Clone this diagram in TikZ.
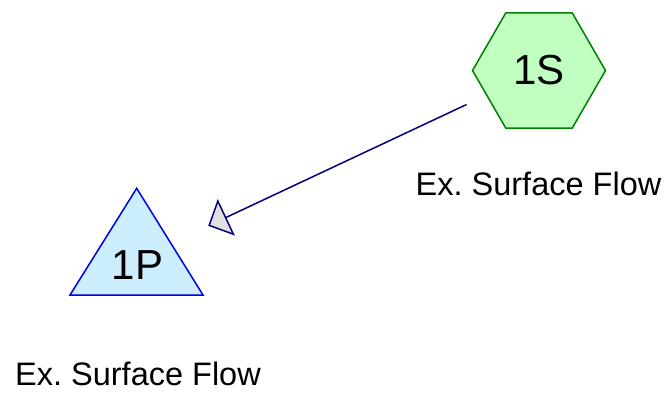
\documentclass[tikz,border=0pt]{standalone}
\usepackage{fontspec}
\setmainfont{Liberation Sans}
\usetikzlibrary{shapes.geometric,arrows.meta}
\definecolor{hexfill}{HTML}{C0FFC0}
\definecolor{hexline}{HTML}{008000}
\definecolor{trifill}{HTML}{CCEEFF}
\definecolor{triline}{HTML}{0000EE}
\definecolor{arrline}{HTML}{000080}
\definecolor{tipfill}{HTML}{E0E0E0}
\tikzset{
  hexnode/.style={regular polygon, regular polygon sides=6, minimum size=133pt,
    inner sep=0pt, outer sep=0pt, draw=hexline, fill=hexfill, line width=1.5pt,
    font=\fontsize{42}{48}\selectfont},
  trishape/.style={draw=triline, fill=trifill, line width=1.5pt, line join=miter},
  bigtext/.style={font=\fontsize{42}{48}\selectfont, inner sep=0pt},
  captext/.style={font=\fontsize{32.5}{36}\selectfont\frenchspacing, inner sep=0pt, anchor=base},
  flow/.style={draw=arrline, line width=1.5pt, shorten <=80pt, shorten >=79pt,
    -{Triangle[length=20pt,width=40pt,fill=tipfill]}}
}
\begin{document}
\begin{tikzpicture}[x=1pt,y=-1pt]
\useasboundingbox (0,0) rectangle (672,393);
% hexagon 1S
\node[hexnode] (s) at (539,70.5) {1S};
\node[captext] (slab) at (538.5,195) {Ex. Surface Flow};
% triangle 1P
\coordinate (ptop) at (136.7,188.3);
\coordinate (pl) at (70,295);
\coordinate (pr) at (203,295);
\draw[trishape] (ptop) -- (pl) -- (pr) -- cycle;
\coordinate (pc) at (136.7,259.4);
\node[bigtext] (p) at (137.5,265) {1P};
\node[captext] (plab) at (138,385) {Ex. Surface Flow};
% connector
\draw[flow] (s.center) -- (pc);
\end{tikzpicture}
\end{document}
